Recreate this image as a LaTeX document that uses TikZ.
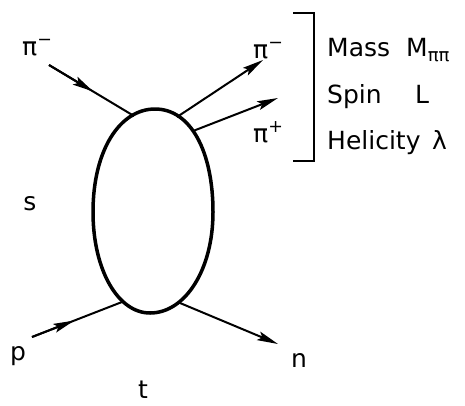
\documentclass[tikz,border=0pt]{standalone}
\usepackage{fontspec}
\setmainfont{DejaVu Sans}
\usetikzlibrary{arrows.meta,calc}
\begin{document}
\begin{tikzpicture}[x=1pt,y=-1pt,
  lbl/.style={inner sep=0pt, font=\fontsize{25}{30}\selectfont},
  ptl/.style={line width=2pt},
  tipend/.style={-{Stealth[length=21pt,width=9pt,inset=4pt]}},
  blob/.style={line width=3.5pt},
  brk/.style={line width=2pt}
]
\useasboundingbox (0,0) rectangle (465,405);
% blob
\draw[blob] (155,109) .. controls (191,109) and (213,152) .. (213,212)
  .. controls (213,270) and (185,313) .. (150,313)
  .. controls (118,313) and (93,270) .. (93,212)
  .. controls (93,150) and (120,109) .. cycle;
% endpoints
\coordinate (inA) at (49,65);  \coordinate (inB) at (134,116);
\coordinate (oaA) at (177,117); \coordinate (oaB) at (263,60);
\coordinate (obA) at (193,131); \coordinate (obB) at (278,98);
\coordinate (pA) at (32,337);  \coordinate (pB) at (122,302);
\coordinate (nA) at (180,303); \coordinate (nB) at (278,344);
% lines
\draw[ptl] (inA) -- (inB);
\draw[ptl,tipend] (inA) -- ($(inA)!0.52!(inB)$);
\draw[ptl,tipend] (oaA) -- (oaB);
\draw[ptl,tipend] (obA) -- (obB);
\draw[ptl] (pA) -- (pB);
\draw[ptl,tipend] (pA) -- ($(pA)!0.47!(pB)$);
\draw[ptl,tipend] (nA) -- (nB);
% bracket
\coordinate (brT) at (293,13); \coordinate (brB) at (293,161);
\draw[brk] (brT) -- (314,13) -- (314,161) -- (brB);
% labels
\node[lbl,anchor=base west] (lpim) at (22,55) {π\textsuperscript{−}};
\node[lbl,anchor=base west] (rpim) at (253,58) {π\textsuperscript{−}};
\node[lbl,anchor=base west] (rpip) at (253,142) {π\textsuperscript{+}};
\node[lbl,anchor=base west] (mass) at (327,56) {Mass};
\node[lbl,anchor=base west] (mpp) at (406,56) {M\raisebox{-0.2em}{\fontsize{18}{18}\selectfont ππ}};
\node[lbl,anchor=base west] (spin) at (327,103) {Spin};
\node[lbl,anchor=base west] (ll) at (415,103) {L};
\node[lbl,anchor=base west] (heli) at (327,149) {Helicity};
\node[lbl,anchor=base west] (lam) at (432,149) {λ};
\node[lbl,anchor=base] (ls) at (30,210) {s};
\node[lbl,anchor=base west] (lp) at (10,360) {p};
\node[lbl,anchor=base west] (ln) at (291,367) {n};
\node[lbl,anchor=base] (lt) at (143,398) {t};
\end{tikzpicture}
\end{document}
